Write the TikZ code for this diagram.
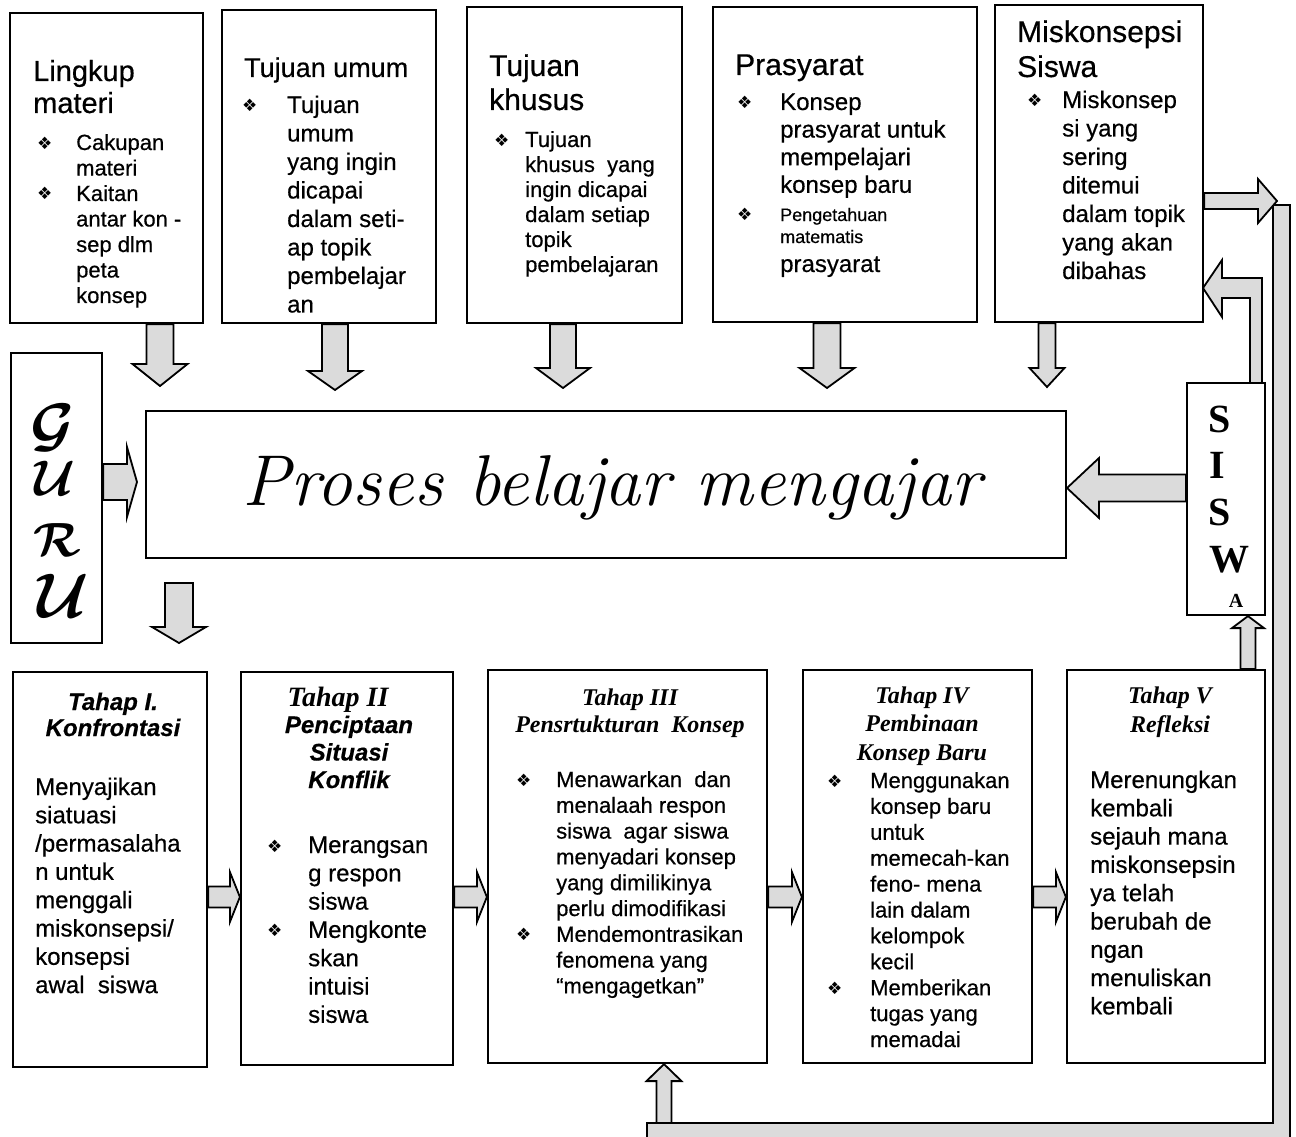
\documentclass[tikz,border=0pt]{standalone}
\usepackage{fontspec}
\usetikzlibrary{calc}
\newfontfamily\arial{Liberation Sans}[FakeBold=0.5]
\newfontfamily\tnr{Liberation Serif}
\newfontfamily\dejavu{DejaVu Sans}
\newcommand{\fz}[2]{\fontsize{#1}{#2}\selectfont}
\newcommand{\bul}[1]{\makebox[#1pt][l]{{\dejavu\fz{17}{17}\raisebox{1pt}{❖}}}}
\newcommand{\bcal}[1]{\mbox{\boldmath$\mathcal{#1}$}}
\newcommand{\fatarrow}[5]{%
  \filldraw[fat] let \p1=(#1), \p2=(#2), \n1={atan2(\y2-\y1,\x2-\x1)}, \n2={veclen(\x2-\x1,\y2-\y1)} in
  [shift={(\p1)}, rotate=\n1]
  (0pt,#3pt) -- ({(\n2-#5)*1pt},#3pt) -- ({(\n2-#5)*1pt},#4pt) -- ({\n2*1pt},0pt)
  -- ({(\n2-#5)*1pt},-#4pt) -- ({(\n2-#5)*1pt},-#3pt) -- (0pt,-#3pt) -- cycle;}
\tikzset{
  box/.style={draw, line width=2.2pt, fill=white, inner sep=0pt},
  fat/.style={draw, line width=1.8pt, fill=black!14, line join=miter},
  txt/.style={inner sep=0pt, anchor=base west},
  ctxt/.style={inner sep=0pt, anchor=base},
  gletter/.style={inner sep=0pt},
}
\begin{document}
\begin{tikzpicture}[x=1pt,y=-1pt]
\useasboundingbox (0,0) rectangle (1296,1137);

% feedback band (right and bottom)
\filldraw[fat] (1273,205) -- (1290,205) -- (1290,1142) -- (647,1142) -- (647,1123) -- (1273,1123) -- cycle;
% L-shaped arrow from SISWA up to Miskonsepsi
\filldraw[fat] (1262,383) -- (1262,278) -- (1222,278) -- (1222,260) -- (1203,288) -- (1222,317) -- (1222,298) -- (1250,298) -- (1250,383);

% boxes
\node[box, minimum width=193pt, minimum height=310pt] (ling) at (106.5,168) {};
\node[box, minimum width=214pt, minimum height=313pt] (tujum) at (329,166.5) {};
\node[box, minimum width=215pt, minimum height=316pt] (tujkh) at (574.5,165) {};
\node[box, minimum width=264pt, minimum height=315pt] (pras) at (845,164.5) {};
\node[box, minimum width=208pt, minimum height=317pt] (misk) at (1099,163.5) {};
\node[box, minimum width=91pt, minimum height=290pt] (guru) at (56.5,498) {};
\node[box, minimum width=920pt, minimum height=147pt] (proses) at (606,484.5) {};
\node[box, minimum width=78pt, minimum height=232pt] (siswa) at (1226,499) {};
\node[box, minimum width=194pt, minimum height=395pt] (t1) at (110,869.5) {};
\node[box, minimum width=212pt, minimum height=393pt] (t2) at (347,868.5) {};
\node[box, minimum width=279pt, minimum height=393pt] (t3) at (627.5,866.5) {};
\node[box, minimum width=229pt, minimum height=393pt] (t4) at (917.5,866.5) {};
\node[box, minimum width=198pt, minimum height=393pt] (t5) at (1166,866.5) {};

% arrow end coordinates
\coordinate (e1) at (160,386);
\coordinate (e2) at (335,390);
\coordinate (e3) at (563,388);
\coordinate (e4) at (827,388);
\coordinate (e5) at (1047,387);
\coordinate (g1) at (137,482);
\coordinate (g2s) at (179,583);
\coordinate (g2e) at (179,643);
\coordinate (s1) at (1067,488);
\coordinate (h) at (0,897);
\coordinate (u1) at (1248,0);
\coordinate (r1) at (1277,201);
\coordinate (b1) at (664,1123);

\fatarrow{ling.south -| e1}{e1}{13.5}{27.5}{22}
\fatarrow{tujum.south -| e2}{e2}{13}{27}{19}
\fatarrow{tujkh.south -| e3}{e3}{13}{27}{20}
\fatarrow{pras.south -| e4}{e4}{13.5}{27.5}{20}
\fatarrow{misk.south -| e5}{e5}{8.5}{17.5}{19}
\fatarrow{guru.east |- g1}{g1}{18}{35}{10}
\fatarrow{g2s}{g2e}{14}{27}{16}
\fatarrow{siswa.west |- s1}{s1}{13.5}{30}{32}
\fatarrow{t1.east |- h}{t2.west |- h}{10.5}{25}{10}
\fatarrow{t2.east |- h}{t3.west |- h}{10.5}{25}{10}
\fatarrow{t3.east |- h}{t4.west |- h}{10.5}{25}{10}
\fatarrow{t4.east |- h}{t5.west |- h}{10.5}{25}{10}
\fatarrow{t5.north -| u1}{siswa.south -| u1}{7.5}{16}{12}
\fatarrow{misk.east |- r1}{r1}{8}{22}{19}
\fatarrow{b1}{t3.south -| b1}{7.5}{17.5}{17}

% ---- top boxes text
\node[txt] (lingT) at (33,81) {\arial\fz{29}{32}\begin{tabular}[t]{@{}l@{}}Lingkup\\materi\end{tabular}};
\node[txt] (lingB) at (37,150) {\arial\fz{22}{25.5}\begin{tabular}[t]{@{}l@{}l@{}}\bul{39}&Cakupan\\&materi\\\bul{39}&Kaitan\\&antar kon -\\&sep dlm\\&peta\\&konsep\end{tabular}};

\node[txt] (tujumT) at (244,77) {\arial\fz{27}{30}Tujuan umum};
\node[txt] (tujumB) at (242,113) {\arial\fz{24}{28.5}\begin{tabular}[t]{@{}l@{}l@{}}\bul{45}&Tujuan\\&umum\\&yang ingin\\&dicapai\\&dalam seti-\\&ap topik\\&pembelajar\\&an\end{tabular}};

\node[txt] (tujkhT) at (489,76) {\arial\fz{30}{34}\begin{tabular}[t]{@{}l@{}}Tujuan\\khusus\end{tabular}};
\node[txt] (tujkhB) at (494,147) {\arial\fz{22}{25}\begin{tabular}[t]{@{}l@{}l@{}}\bul{31}&Tujuan\\&khusus\ \ yang\\&ingin dicapai\\&dalam setiap\\&topik\\&pembelajaran\end{tabular}};

\node[txt] (prasT) at (735,75) {\arial\fz{30}{34}Prasyarat};
\node[txt] (prasB) at (737,110) {\arial\fz{24}{27.6}\begin{tabular}[t]{@{}l@{}l@{}}\bul{43}&Konsep\\&prasyarat untuk\\&mempelajari\\&konsep baru\end{tabular}};
\node[txt] (prasC) at (737,221) {\arial\fz{18}{22}\begin{tabular}[t]{@{}l@{}l@{}}\bul{43}&Pengetahuan\\&matematis\end{tabular}};
\node[txt] (prasD) at (780,272) {\arial\fz{24}{28}prasyarat};

\node[txt] (miskT) at (1017,42) {\arial\fz{30}{35}\begin{tabular}[t]{@{}l@{}}Miskonsepsi\\Siswa\end{tabular}};
\node[txt] (miskB) at (1027,108) {\arial\fz{24}{28.5}\begin{tabular}[t]{@{}l@{}l@{}}\bul{35}&Miskonsep\\&si yang\\&sering\\&ditemui\\&dalam topik\\&yang akan\\&dibahas\end{tabular}};

% ---- GURU / Proses / SISWA
\node[gletter, scale=6] (gG) at (53,428) {\bcal{G}};
\node[gletter, scale=5] (gU) at (55,478) {\bcal{U}};
\node[gletter, scale=4.8] (gR) at (57,540) {\bcal{R}};
\node[gletter, scale=6.3] (gU2) at (63,596) {\bcal{U}};

\node[ctxt] (prosesT) at (612,505) {\fz{72}{80}\itshape Proses belajar mengajar};

\node[ctxt] (sS) at (1220,432) {\tnr\bfseries\fz{40}{40}S};
\node[ctxt] (sI) at (1217,478) {\tnr\bfseries\fz{40}{40}I};
\node[ctxt] (sS2) at (1220,525) {\tnr\bfseries\fz{40}{40}S};
\node[ctxt] (sW) at (1229,572) {\tnr\bfseries\fz{40}{40}W};
\node[ctxt] (sA) at (1236,607) {\tnr\bfseries\fz{20}{20}A};

% ---- Tahap I
\node[ctxt] (t1T) at (113,710) {\arial\bfseries\itshape\fz{24}{26}\begin{tabular}[t]{@{}c@{}}Tahap I.\\Konfrontasi\end{tabular}};
\node[txt] (t1B) at (35,795) {\arial\fz{24}{28.3}\begin{tabular}[t]{@{}l@{}}Menyajikan\\siatuasi\\/permasalaha\\n untuk\\menggali\\miskonsepsi/\\konsepsi\\awal\ \ siswa\end{tabular}};

% ---- Tahap II
\node[ctxt] (t2T) at (338,706) {\tnr\bfseries\itshape\fz{28}{28}Tahap II};
\node[ctxt] (t2S) at (349,733) {\arial\bfseries\itshape\fz{24}{27.5}\begin{tabular}[t]{@{}c@{}}Penciptaan\\Situasi\\Konflik\end{tabular}};
\node[txt] (t2B) at (267,853) {\arial\fz{24}{28.3}\begin{tabular}[t]{@{}l@{}l@{}}\bul{41}&Merangsan\\&g respon\\&siswa\\\bul{41}&Mengkonte\\&skan\\&intuisi\\&siswa\end{tabular}};

% ---- Tahap III
\node[ctxt] (t3T) at (630,705) {\tnr\bfseries\itshape\fz{24}{27}\begin{tabular}[t]{@{}c@{}}Tahap III\\Pensrtukturan\ \ Konsep\end{tabular}};
\node[txt] (t3B) at (516,787) {\arial\fz{22}{25.8}\begin{tabular}[t]{@{}l@{}l@{}}\bul{40}&Menawarkan\ \ dan\\&menalaah respon\\&siswa\ \ agar siswa\\&menyadari konsep\\&yang dimilikinya\\&perlu dimodifikasi\\\bul{40}&Mendemontrasikan\\&fenomena yang\\&“mengagetkan”\end{tabular}};

% ---- Tahap IV
\node[ctxt] (t4T) at (922,703) {\tnr\bfseries\itshape\fz{24}{28.5}\begin{tabular}[t]{@{}c@{}}Tahap IV\\Pembinaan\\Konsep Baru\end{tabular}};
\node[txt] (t4B) at (827,788) {\arial\fz{22}{25.9}\begin{tabular}[t]{@{}l@{}l@{}}\bul{43}&Menggunakan\\&konsep baru\\&untuk\\&memecah-kan\\&feno- mena\\&lain dalam\\&kelompok\\&kecil\\\bul{43}&Memberikan\\&tugas yang\\&memadai\end{tabular}};

% ---- Tahap V
\node[ctxt] (t5T) at (1170,703) {\tnr\bfseries\itshape\fz{24}{29}\begin{tabular}[t]{@{}c@{}}Tahap V\\Refleksi\end{tabular}};
\node[txt] (t5B) at (1090,788) {\arial\fz{24}{28.3}\begin{tabular}[t]{@{}l@{}}Merenungkan\\kembali\\sejauh mana\\miskonsepsin\\ya telah\\berubah de\\ngan\\menuliskan\\kembali\end{tabular}};
\end{tikzpicture}
\end{document}
